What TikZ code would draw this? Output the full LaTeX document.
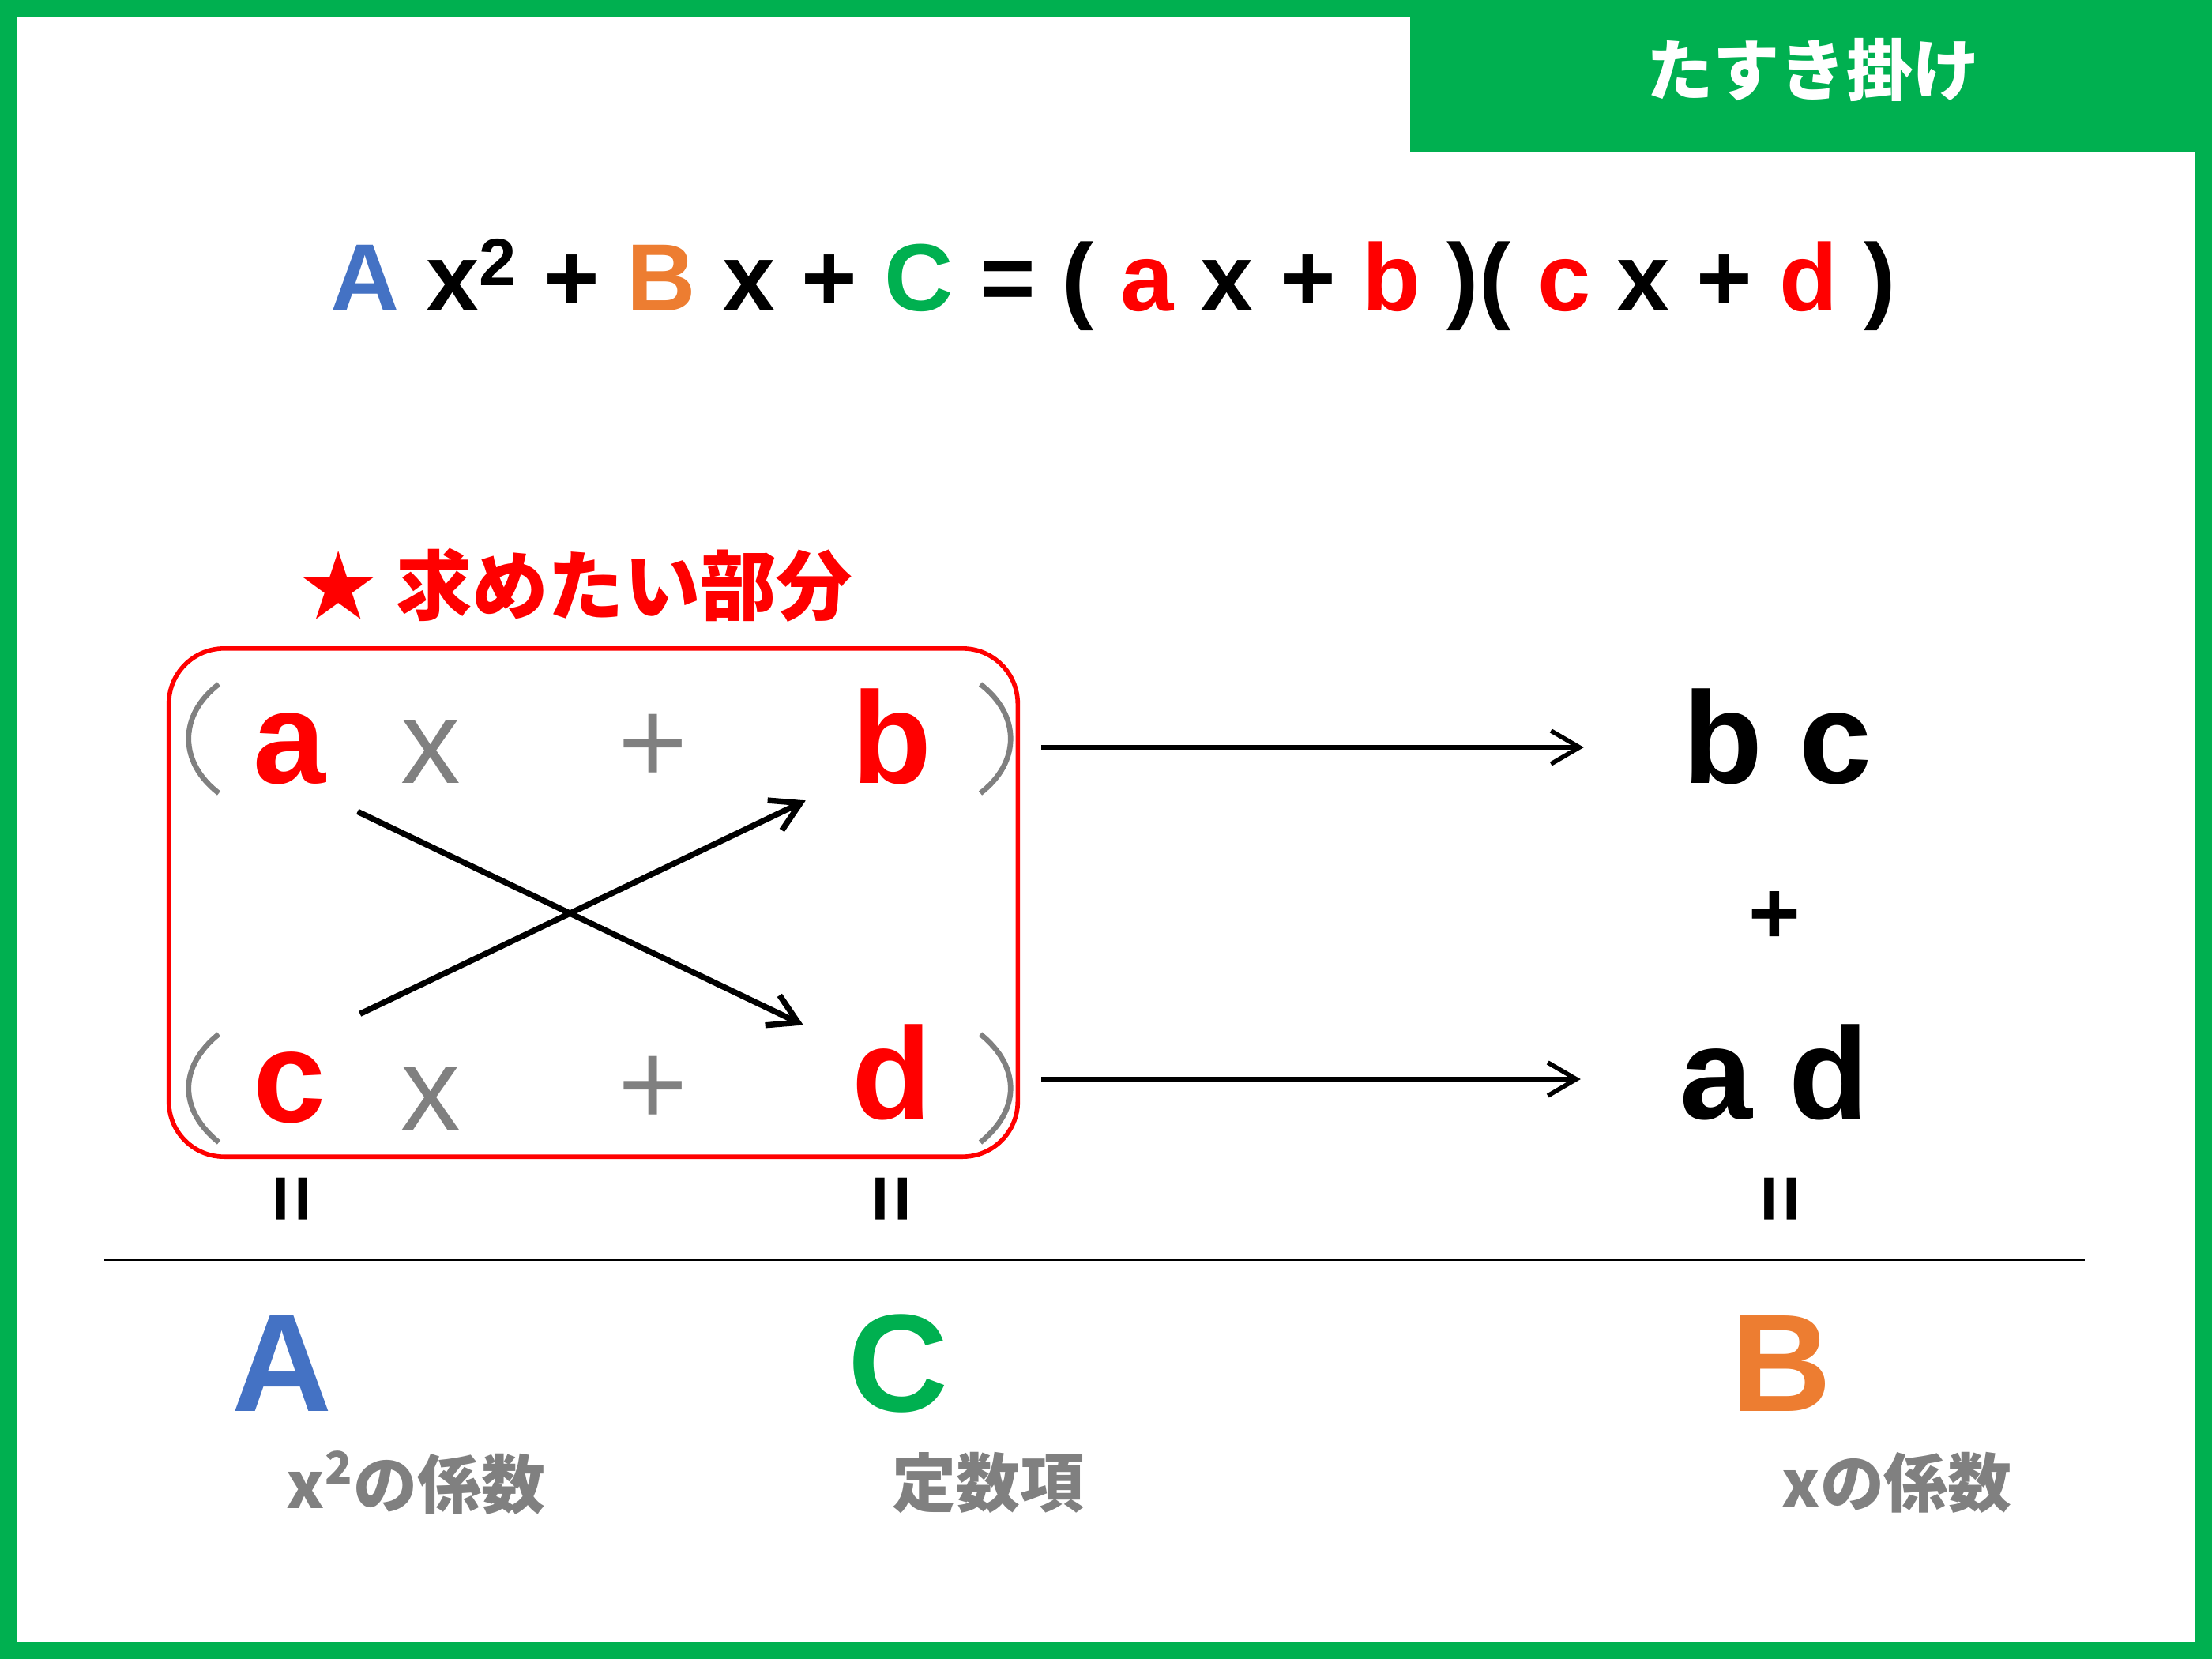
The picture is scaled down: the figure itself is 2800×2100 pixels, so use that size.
\documentclass[tikz,border=0pt]{standalone}
\usepackage{fontspec}
\setmainfont{Liberation Sans}
\newfontfamily\jpfont{Noto Sans CJK JP}
\usetikzlibrary{arrows.meta,positioning}
\definecolor{tgreen}{HTML}{00B050}
\definecolor{tblue}{HTML}{4472C4}
\definecolor{torange}{HTML}{ED7D31}
\definecolor{tred}{HTML}{FF0000}
\definecolor{tgray}{HTML}{808080}
\tikzset{
  eqline/.style={font=\fontsize{34.4}{42}\selectfont\bfseries,inner sep=0pt,anchor=base},
  redlet/.style={text=tred,font=\fontsize{47}{56}\selectfont\bfseries,inner sep=0pt,anchor=base},
  graylet/.style={text=tgray,font=\fontsize{43}{52}\selectfont,inner sep=0pt,anchor=base},
  blacklet/.style={font=\fontsize{47}{56}\selectfont\bfseries,inner sep=0pt,anchor=base},
  biglet/.style={font=\fontsize{50}{60}\selectfont\bfseries,inner sep=0pt,anchor=base},
  eqsign/.style={font=\fontsize{30}{36}\selectfont\bfseries,rotate=90,inner sep=0pt},
  lbl/.style={text=tgray,font=\jpfont\fontsize{23}{28}\selectfont\bfseries,inner sep=0pt,anchor=west},
  paren/.style={draw=tgray,line width=1.9pt},
  arr/.style={->,line width=1.6pt},
}

\begin{document}
\begin{tikzpicture}[>={Straight Barb[length=3.6mm,width=4.2mm]},line join=bevel,x=0.01cm,y=-0.01cm]
%
  \useasboundingbox (0,0) rectangle (2800,2100);
  \fill[tgreen] (0,0) rectangle (2800,2100);
  \fill[white] (21,21) rectangle (2779,2079);
  \node (tab) at (2292.5,96) [fill=tgreen,minimum width=10.15cm,minimum height=1.92cm,inner sep=0pt] {};
  \node (title) at (2295,88) [inner sep=0pt,text=white,font=\jpfont\fontsize{24}{29}\selectfont\bfseries] {たすき掛け};
  \node (eq) at (1409,393) [eqline] {\textcolor{tblue}{A} x\textsuperscript{2} + \textcolor{torange}{B} x + \textcolor{tgreen}{C} = ( \textcolor{tred}{a} x + \textcolor{tred}{b} )( \textcolor{tred}{c} x + \textcolor{tred}{d} )};
  \node (want) at (380,741) [anchor=west,inner sep=0pt,text=tred,font=\jpfont\fontsize{27.4}{32}\selectfont\bfseries] {★\hspace{0.25em}求めたい部分};
  \node (box) at (751,1142.5) [draw=tred,line width=1.6pt,rounded corners=0.7cm,minimum width=10.74cm,minimum height=6.43cm] {};
  % upper factor
  \node (a) at (366,991) [redlet] {a};
  \node (x1) at (545,991) [graylet] {x};
  \node (p1) at (827,991) [graylet] {+};
  \node (b) at (1129,991) [redlet] {b};
  \draw [paren] (277,866) .. controls (226,905) and (226,965) .. (277,1004);
  \draw [paren] (1241,866) .. controls (1292,905) and (1292,965) .. (1241,1004);
  % lower factor
  \node (c) at (366,1420) [redlet] {c};
  \node (x2) at (545,1430) [graylet] {x};
  \node (p2) at (827,1424) [graylet] {+};
  \node (d) at (1129,1416) [redlet] {d};
  \draw [paren] (277,1309) .. controls (226,1350) and (226,1405) .. (277,1446);
  \draw [paren] (1241,1309) .. controls (1292,1350) and (1292,1405) .. (1241,1446);
  % cross
  \draw [arr,line width=2.1pt] ([shift={(40,34)}]a.south east) -- ([shift={(-61,2)}]d.north west);
  \draw [arr,line width=2.1pt] ([shift={(43,-47)}]c.north east) -- ([shift={(-58,20)}]b.south west);
  % products
  \node (bc) at (2250,991) [blacklet] {b c};
  \node (plus) at (2246,1161) [font=\fontsize{32}{38}\selectfont\bfseries,inner sep=0pt] {+};
  \node (ad) at (2246,1416) [blacklet] {a d};
  \coordinate (r1) at (1318,946);
  \coordinate (r2) at (1318,1366);
  \draw [arr,shorten >=1.25cm] (r1) -- (r1 -| bc.west);
  \draw [arr,shorten >=1.25cm] (r2) -- (r2 -| ad.west);
  % equals
  \node (e1) at (377,1518) [eqsign] {=};
  \node (e2) at (1136,1518) [eqsign] {=};
  \node (e3) at (2261,1518) [eqsign] {=};
  \draw [line width=0.8pt] (132,1595) -- (2639,1595);
  % coefficients
  \node (A) at (357,1786) [biglet,text=tblue] {A};
  \node (C) at (1137,1786) [biglet,text=tgreen] {C};
  \node (B) at (2255,1786) [biglet,text=torange] {B};
  \node (lA) at (362,1877) [lbl] {x\textsuperscript{2}の係数};
  \node (lC) at (1129,1877) [lbl] {定数項};
  \node (lB) at (2255,1877) [lbl] {xの係数};
%
\end{tikzpicture}
\end{document}
